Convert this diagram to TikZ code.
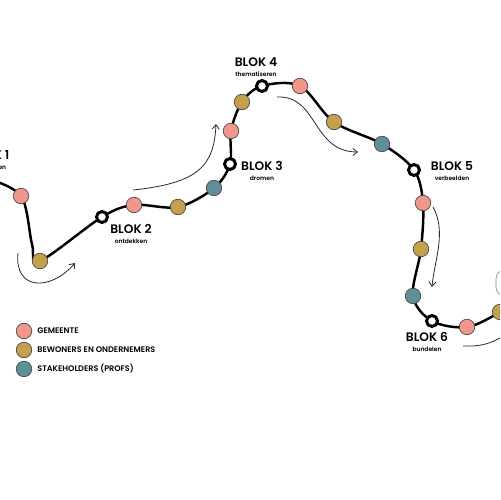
\documentclass[tikz,border=0pt]{standalone}
\usepackage{fontspec}
\setmainfont{Poppins}[UprightFont=* Medium, BoldFont=* SemiBold]
\usetikzlibrary{arrows.meta, calc, positioning}
\definecolor{gemeente}{HTML}{F0968A}
\definecolor{bewoners}{HTML}{C49F4E}
\definecolor{profs}{HTML}{5F8F97}

\begin{document}
\begin{tikzpicture}[x=0.02cm, y=-0.02cm,
    route/.style={line width=1.4pt, black},
    dot/.style={circle, draw=black!75, line width=0.35pt, minimum size=0.31cm, inner sep=0pt},
    halte/.style={circle, draw=black, fill=white, line width=1.7pt, minimum size=0.22cm, inner sep=0pt},
    bloklabel/.style={align=center, inner sep=0pt, font=\fontsize{7}{6}\selectfont\bfseries},
    pijl/.style={line width=0.45pt, black!85, -{Straight Barb[length=2.6pt, width=4pt]}},
    legend/.style={anchor=west, inner sep=0pt, font=\fontsize{4.6}{5}\selectfont\bfseries}]
    \useasboundingbox (0,0) rectangle (500,500);
    \clip (0,0) rectangle (500,500);

    % punten van de route
    \foreach \n/\x/\y in {s/-14/178, a1/21/196, k1/32/244, a2/40/261, b2/102/217,
        a3/134/205, a4/178/207, a5/214/188, b3/230/164, a6/231/131, a7/242/102,
        b4/262/86, a8/300/86, a9/334/122, a10/382/144, b5/414/170, a11/423/203,
        a12/421/249, a13/413/296, b6/432/321, a14/467/327, a15/500/312, e/522/296}
        \coordinate (\n) at (\x,\y);

    % route
    \draw[route] plot[smooth, tension=0.55] coordinates {(s) (a1) (k1) (a2) (b2) (a3) (a4)
        (a5) (b3) (a6) (a7) (b4) (a8) (a9) (a10) (b5) (a11) (a12) (a13) (b6) (a14) (a15) (e)};

    % deelnemers
    \foreach \n/\c in {a1/gemeente, a2/bewoners, a3/gemeente, a4/bewoners, a5/profs,
        a6/gemeente, a7/bewoners, a8/gemeente, a9/bewoners, a10/profs, a11/gemeente,
        a12/bewoners, a13/profs, a14/gemeente, a15/bewoners}
        \node[dot, fill=\c] (d-\n) at (\n) {};

    % blokken
    \foreach \n in {b2, b3, b4, b5, b6}
        \node[halte] (h-\n) at (\n) {};

    \node[bloklabel] (l1) at (-10,160) {BLOK 1\\{\fontsize{3.4}{4}\selectfont verkennen}};
    \node[bloklabel] (l2) at (131,234) {BLOK 2\\{\fontsize{3.4}{4}\selectfont ontdekken}};
    \node[bloklabel] (l3) at (262,171) {BLOK 3\\{\fontsize{3.4}{4}\selectfont dromen}};
    \node[bloklabel] (l4) at (256,67) {BLOK 4\\{\fontsize{3.4}{4}\selectfont thematiseren}};
    \node[bloklabel] (l5) at (452,171) {BLOK 5\\{\fontsize{3.4}{4}\selectfont verbeelden}};
    \node[bloklabel] (l6) at (427,342) {BLOK 6\\{\fontsize{3.4}{4}\selectfont bundelen}};

    % pijlen langs de route
    \draw[pijl] (18,253) .. controls (14,290) and (50,292) .. (75,263);
    \draw[pijl] (133,190) .. controls (200,183) and (214,165) .. (216,124);
    \draw[pijl] (277,97) .. controls (318,95) and (312,152) .. (358,152);
    \draw[pijl] (433,207) .. controls (447,232) and (434,262) .. (432,287);
    \draw[line width=0.45pt, black!85] (463,346) .. controls (485,347) and (496,341) .. (506,334);

    % kader rechts
    \draw[black!45, line width=0.4pt, rounded corners=5pt] (496,270) rectangle (530,296);

    % legenda
    \foreach \c/\t [count=\i] in {gemeente/GEMEENTE, bewoners/BEWONERS EN ONDERNEMERS,
        profs/STAKEHOLDERS (PROFS)} {
        \node[dot, fill=\c] (k\i) at (24,{312+19*\i}) {};
        \node[legend] (t\i) at (37,{312+19*\i}) {\t};
    }
\end{tikzpicture}
\end{document}
